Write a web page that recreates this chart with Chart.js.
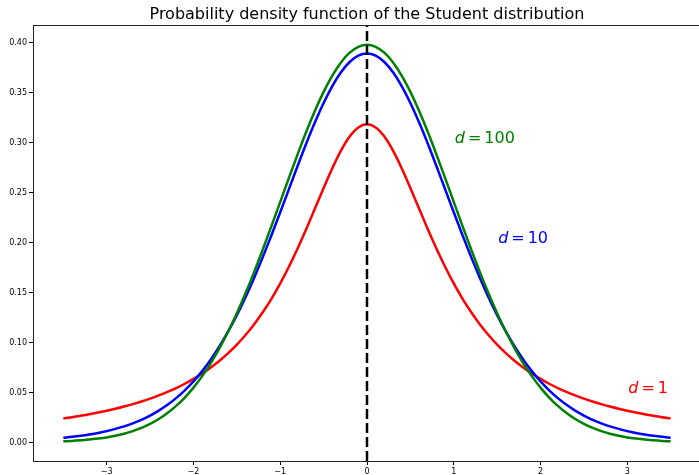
<!DOCTYPE html>
<html>
<head>
<meta charset="utf-8">
<script src="https://cdn.jsdelivr.net/npm/chart.js@4.4.1/dist/chart.umd.min.js"></script>
<style>
  html, body { margin: 0; padding: 0; overflow: hidden; background: #fff; }
  #wrap { width: 703px; height: 475px; }
</style>
</head>
<body>
<div id="wrap"><canvas id="chart"></canvas></div>
<script>
// x grid of the curves
const xs = [
  -3.5,-3.4,-3.3,-3.2,-3.1,-3.0,-2.9,-2.8,-2.7,-2.6,-2.5,-2.4,-2.3,-2.2,-2.1,-2.0,-1.9,-1.8,
  -1.7,-1.6,-1.5,-1.4,-1.3,-1.2,-1.1,-1.0,-0.9,-0.8,-0.7,-0.6,-0.5,-0.4,-0.3,-0.2,-0.1,
  0.0,0.1,0.2,0.3,0.4,0.5,0.6,0.7,0.8,0.9,1.0,1.1,1.2,1.3,1.4,1.5,1.6,1.7,1.8,1.9,
  2.0,2.1,2.2,2.3,2.4,2.5,2.6,2.7,2.8,2.9,3.0,3.1,3.2,3.3,3.4,3.5
];

// densities
const pdfD1 = [
  0.0240,0.0253,0.0268,0.0283,0.0300,0.0318,0.0338,0.0360,0.0384,0.0410,0.0439,0.0471,0.0506,0.0545,
  0.0588,0.0637,0.0690,0.0751,0.0818,0.0894,0.0979,0.1075,0.1183,0.1305,0.1440,0.1592,0.1759,0.1941,
  0.2136,0.2341,0.2546,0.2744,0.2920,0.3061,0.3152,
  0.3183,0.3152,0.3061,0.2920,0.2744,0.2546,0.2341,0.2136,0.1941,0.1759,0.1592,0.1440,0.1305,0.1183,
  0.1075,0.0979,0.0894,0.0818,0.0751,0.0690,0.0637,0.0588,0.0545,0.0506,0.0471,0.0439,0.0410,0.0384,
  0.0360,0.0338,0.0318,0.0300,0.0283,0.0268,0.0253,0.0240
];
const pdfD10 = [
  0.0048,0.0057,0.0068,0.0081,0.0096,0.0114,0.0136,0.0161,0.0192,0.0227,0.0269,0.0319,0.0377,0.0444,
  0.0522,0.0611,0.0714,0.0831,0.0963,0.1111,0.1274,0.1454,0.1649,0.1857,0.2076,0.2304,0.2535,0.2766,
  0.2991,0.3203,0.3397,0.3566,0.3704,0.3807,0.3870,
  0.3891,0.3870,0.3807,0.3704,0.3566,0.3397,0.3203,0.2991,0.2766,0.2535,0.2304,0.2076,0.1857,0.1649,
  0.1454,0.1274,0.1111,0.0963,0.0831,0.0714,0.0611,0.0522,0.0444,0.0377,0.0319,0.0269,0.0227,0.0192,
  0.0161,0.0136,0.0114,0.0096,0.0081,0.0068,0.0057,0.0048
];
const pdfD100 = [
  0.0012,0.0016,0.0022,0.0029,0.0039,0.0051,0.0067,0.0088,0.0114,0.0146,0.0186,0.0235,0.0295,0.0366,
  0.0450,0.0549,0.0664,0.0795,0.0944,0.1110,0.1294,0.1493,0.1707,0.1933,0.2168,0.2408,0.2648,0.2883,
  0.3109,0.3319,0.3508,0.3671,0.3803,0.3900,0.3959,
  0.3979,0.3959,0.3900,0.3803,0.3671,0.3508,0.3319,0.3109,0.2883,0.2648,0.2408,0.2168,0.1933,0.1707,
  0.1493,0.1294,0.1110,0.0944,0.0795,0.0664,0.0549,0.0450,0.0366,0.0295,0.0235,0.0186,0.0146,0.0114,
  0.0088,0.0067,0.0051,0.0039,0.0029,0.0022,0.0016,0.0012
];

const xTicks = [-3, -2, -1, 0, 1, 2, 3];
const yTicks = [0, 0.05, 0.10, 0.15, 0.20, 0.25, 0.30, 0.35, 0.40];

// curve annotations: d value, anchor x, anchor y (data units)
const labelNames = ['100', '10', '1'];
const labelX = [1.0, 1.5, 3.0];
const labelY = [0.30, 0.20, 0.05];

const meanX = 0;
const titleText = 'Probability density function of the Student distribution';

const RED = '#ff0000', BLUE = '#0000ff', GREEN = '#008000';
const labelColors = [GREEN, BLUE, RED];

const toPts = ys => xs.map((x, i) => ({ x: x, y: ys[i] }));

const extras = {
  id: 'extras',
  afterDatasetsDraw(chart) {
    const { ctx, chartArea: a, scales: { x, y } } = chart;
    ctx.save();
    // dashed vertical line at the mean
    const px = x.getPixelForValue(meanX);
    ctx.strokeStyle = '#000';
    ctx.lineWidth = 2.5;
    ctx.setLineDash([10, 4]);
    ctx.beginPath();
    ctx.moveTo(px, a.bottom);
    ctx.lineTo(px, a.top);
    ctx.stroke();
    ctx.setLineDash([]);
    // top and right spines
    ctx.lineWidth = 1;
    ctx.strokeStyle = '#222';
    ctx.beginPath();
    ctx.moveTo(a.left, a.top + 0.5);
    ctx.lineTo(a.right, a.top + 0.5);
    ctx.lineTo(a.right, a.bottom);
    ctx.stroke();
    // curve labels, "d = n" with italic d
    ctx.textBaseline = 'alphabetic';
    ctx.textAlign = 'left';
    labelNames.forEach((n, i) => {
      let lx = x.getPixelForValue(labelX[i]) + 1;
      const ly = y.getPixelForValue(labelY[i]);
      ctx.fillStyle = labelColors[i];
      ctx.font = 'italic 16px "DejaVu Sans"';
      ctx.fillText('d', lx, ly);
      lx += ctx.measureText('d').width + 3;
      ctx.font = '16px "DejaVu Sans"';
      ctx.fillText('=', lx, ly);
      lx += ctx.measureText('=').width + 3;
      ctx.fillText(n, lx, ly);
    });
    // title
    ctx.fillStyle = '#000';
    ctx.font = '16px "DejaVu Sans"';
    ctx.textAlign = 'center';
    ctx.fillText(titleText, (a.left + a.right) / 2, 19);
    ctx.restore();
  }
};

const tickFont = { family: '"DejaVu Sans"', size: 8 };

new Chart(document.getElementById('chart'), {
  type: 'line',
  data: {
    datasets: [
      { label: 'd=1', data: toPts(pdfD1), borderColor: RED, order: 3 },
      { label: 'd=10', data: toPts(pdfD10), borderColor: BLUE, order: 2 },
      { label: 'd=100', data: toPts(pdfD100), borderColor: GREEN, order: 1 }
    ]
  },
  options: {
    responsive: true,
    maintainAspectRatio: false,
    animation: false,
    layout: { padding: { top: 25, right: 2, left: 0, bottom: 0 } },
    elements: {
      line: { borderWidth: 2.5, cubicInterpolationMode: 'monotone', fill: false },
      point: { radius: 0 }
    },
    plugins: { legend: { display: false }, tooltip: { enabled: false }, title: { display: false } },
    scales: {
      x: {
        type: 'linear',
        min: -3.85, max: 3.85,
        afterBuildTicks: s => { s.ticks = xTicks.map(v => ({ value: v })); },
        afterFit: s => { s.height = 14; },
        ticks: {
          font: tickFont, color: '#000', padding: 2, maxRotation: 0, autoSkip: false,
          callback: v => v < 0 ? '\u2212' + Math.abs(v) : String(v)
        },
        grid: { drawOnChartArea: false, tickLength: 4, color: '#000' },
        border: { color: '#222', width: 1 }
      },
      y: {
        min: -0.0185, max: 0.4177,
        afterBuildTicks: s => { s.ticks = yTicks.map(v => ({ value: v })); },
        afterFit: s => { s.width = 33; },
        ticks: {
          font: tickFont, color: '#000', padding: 2, autoSkip: false,
          callback: v => v.toFixed(2)
        },
        grid: { drawOnChartArea: false, tickLength: 4, color: '#000' },
        border: { color: '#222', width: 1 }
      }
    }
  },
  plugins: [extras]
});
</script>
</body>
</html>
